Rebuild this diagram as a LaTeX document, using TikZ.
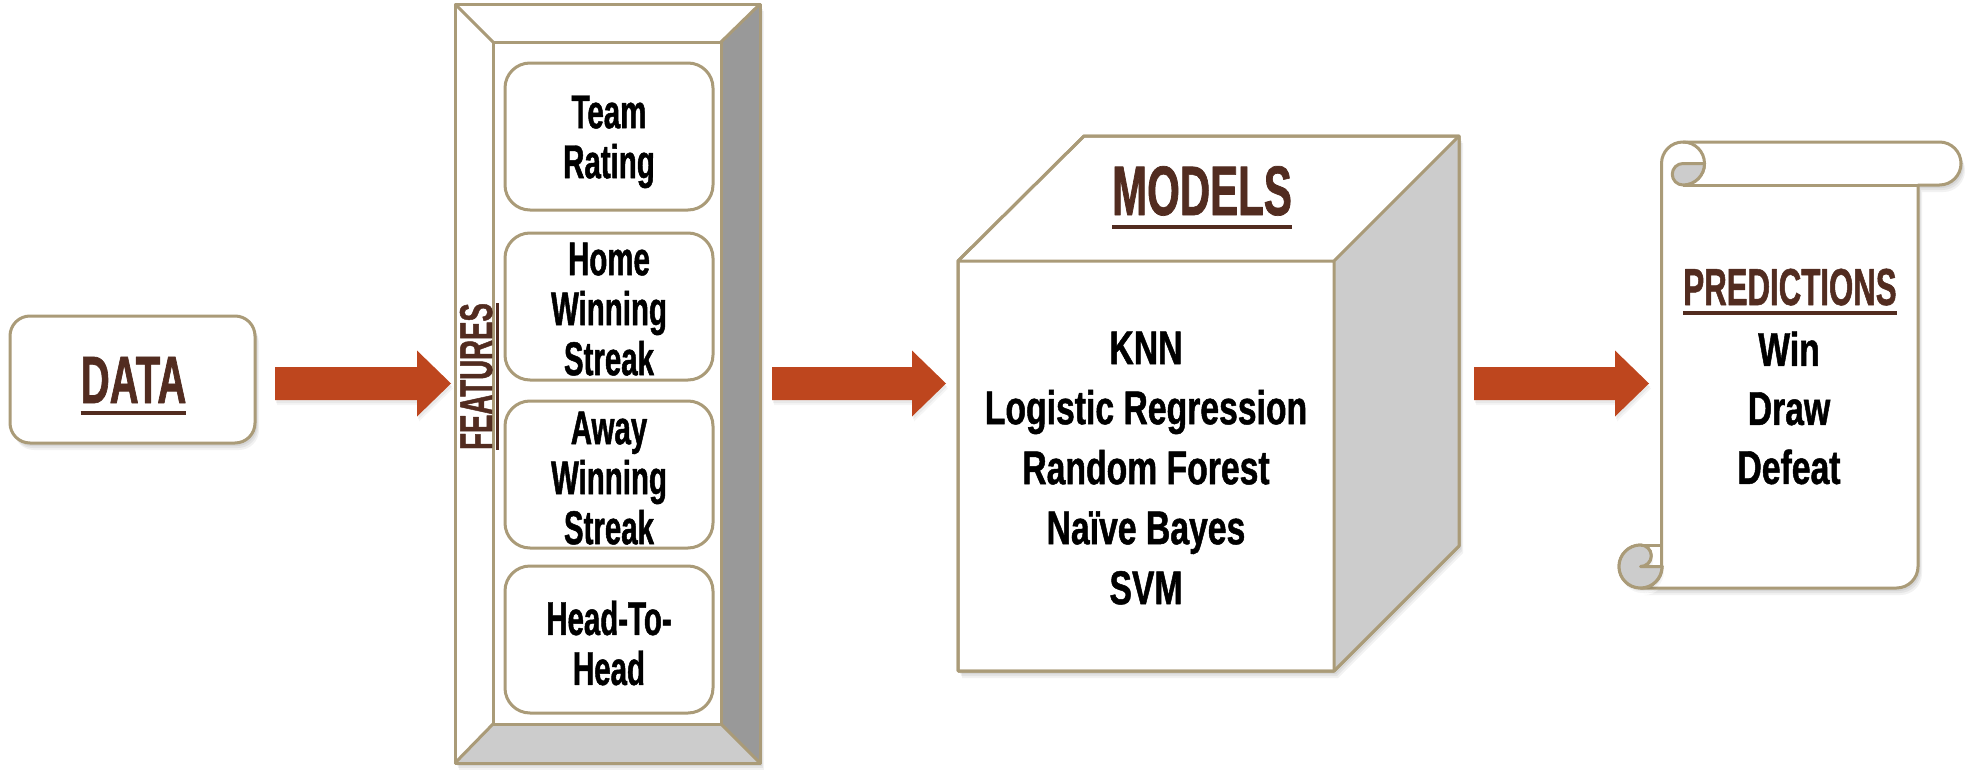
\documentclass[tikz,border=0pt]{standalone}
\usepackage{fontspec}
\setmainfont{Liberation Sans}
\newfontfamily\fntHead{Liberation Sans}[FakeStretch=0.6,FakeBold=1]
\newfontfamily\fntFeat{Liberation Sans}[FakeStretch=0.62,FakeBold=1]
\newfontfamily\fntList{Liberation Sans}[FakeStretch=0.71,FakeBold=1]
\usetikzlibrary{calc}
\definecolor{edge}{RGB}{170,155,120}
\definecolor{brownt}{RGB}{82,44,32}
\definecolor{arrowc}{RGB}{190,70,30}
\definecolor{gdark}{RGB}{153,153,153}
\definecolor{glight}{RGB}{204,204,204}
\newcommand\myul[3]{\sbox0{#3}\rlap{\rule[#1]{\wd0}{#2}}\usebox0}
\begin{document}
\begin{tikzpicture}[x=1pt,y=1pt,line width=3pt,line join=round,
  softshadow/.style={
    preaction={fill=black,opacity=0.06,transform canvas={xshift=2pt,yshift=-3pt}},
    preaction={fill=black,opacity=0.06,transform canvas={xshift=3pt,yshift=-5pt}},
    preaction={fill=black,opacity=0.05,transform canvas={xshift=4pt,yshift=-7pt}}},
  lightshadow/.style={
    preaction={fill=black,opacity=0.05,transform canvas={xshift=1pt,yshift=-3pt}},
    preaction={fill=black,opacity=0.04,transform canvas={xshift=2pt,yshift=-5pt}}},
  databox/.style={draw=edge,fill=white,rounded corners=20pt,minimum width=245pt,minimum height=127pt,inner sep=0pt,softshadow},
  featbox/.style={draw=edge,fill=white,rounded corners=25pt,minimum width=208pt,minimum height=147pt,inner sep=0pt},
  heading/.style={inner sep=0pt,anchor=base,text=brownt},
  feattext/.style={inner sep=0pt,anchor=north,align=center,text=black,font=\fntFeat\bfseries\fontsize{47.5}{50}\selectfont},
  listtext/.style={inner sep=0pt,anchor=north,align=center,text=black,font=\fntList\bfseries\fontsize{47.5}{60}\selectfont},
  blockarrow/.style={fill=arrowc,lightshadow,to path={($(\tikztostart)+(0,16.5)$) -- ($(\tikztotarget)+(-34,16.5)$) -- ($(\tikztotarget)+(-34,33)$) -- (\tikztotarget) -- ($(\tikztotarget)+(-34,-33)$) -- ($(\tikztotarget)+(-34,-16.5)$) -- ($(\tikztostart)+(0,-16.5)$) -- cycle}}
]
\useasboundingbox (0,0) rectangle (1971,-779);

% DATA
\node[databox] (data) at (132.5,-379.5) {};
\node[heading] (datat) at (133.5,-403) {\fntHead\bfseries\fontsize{67}{67}\selectfont\myul{-12pt}{4pt}{DATA}};

% FEATURES bevel frame
\node[draw=edge,fill=white,minimum width=305pt,minimum height=759pt,inner sep=0pt,softshadow] (feat) at (607.5,-383.5) {};
\fill[gdark] (721,-42) -- (760,-4) -- (760,-763) -- (721,-724) -- cycle;
\fill[glight] (493,-724) -- (721,-724) -- (760,-763) -- (455,-763) -- cycle;
\draw[edge] (455,-4) rectangle (760,-763);
\draw[edge] (493,-42) rectangle (721,-724);
\draw[edge] (455,-4) -- (493,-42) (760,-4) -- (721,-42) (455,-763) -- (493,-724) (760,-763) -- (721,-724);
\node[heading,rotate=90] (featt) at (492,-376.5) {\fntHead\bfseries\fontsize{46}{46}\selectfont\myul{-6.5pt}{2.5pt}{FEATURES}};

\node[featbox] (f1) at (609,-136.5) {};
\node[featbox] (f2) at (609,-306.5) {};
\node[featbox] (f3) at (609,-474.5) {};
\node[featbox] (f4) at (609,-639.5) {};
\node[feattext] (f1t) at (609,-94) {Team\\Rating};
\node[feattext] (f2t) at (609,-241) {Home\\Winning\\Streak};
\node[feattext] (f3t) at (609,-410) {Away\\Winning\\Streak};
\node[feattext] (f4t) at (609,-599) {Head-To-\\Head};

% MODELS cube
\path[fill=white,draw=edge,softshadow] (958,-261) -- (1084,-136) -- (1459,-136) -- (1459,-546) -- (1334,-671) -- (958,-671) -- cycle;
\fill[glight] (1334,-261) -- (1459,-136) -- (1459,-546) -- (1334,-671) -- cycle;
\draw[edge] (958,-261) -- (1084,-136) -- (1459,-136) -- (1459,-546) -- (1334,-671) -- (958,-671) -- cycle;
\draw[edge] (958,-261) -- (1334,-261) -- (1459,-136) (1334,-261) -- (1334,-671);
\node[heading] (modt) at (1202,-215) {\fntHead\bfseries\fontsize{70}{70}\selectfont\myul{-13.5pt}{4pt}{MODELS}};
\node[listtext] (modl) at (1146,-330) {KNN\\Logistic Regression\\Random Forest\\Naïve Bayes\\SVM};

% PREDICTIONS scroll
\path[draw=edge,fill=white,softshadow] (1661.5,-566.5) -- (1661.5,-163.5) arc[start angle=180,end angle=90,radius=21.5] -- (1939.5,-142) arc[start angle=90,end angle=-90,radius=21.5] -- (1918,-185) -- (1918,-566.5) arc[start angle=0,end angle=-90,radius=21.5] -- (1640.5,-588) arc[start angle=-90,end angle=0,radius=21.5] -- cycle;
\draw[edge] (1683,-185) -- (1918,-185);
\draw[edge] (1683,-142) arc[start angle=90,end angle=-90,radius=21.5];
\path[fill=glight,draw=edge] (1683,-163.5) -- (1704.5,-163.5) arc[start angle=0,end angle=-90,radius=21.5] arc[start angle=-90,end angle=-270,radius=10.75] -- cycle;
\path[fill=glight,draw=edge,lightshadow] (1640.5,-545) arc[start angle=90,end angle=360,radius=21.5] -- (1640.5,-566.5) arc[start angle=-90,end angle=90,radius=10.75] -- cycle;
\path[fill=glight,draw=edge] (1640.5,-545) arc[start angle=90,end angle=360,radius=21.5] -- (1640.5,-566.5) arc[start angle=-90,end angle=90,radius=10.75] -- cycle;
\draw[edge] (1640.5,-545) -- (1661.5,-545);
\node[heading] (predt) at (1790,-305) {\fntHead\bfseries\fontsize{52}{52}\selectfont\myul{-10.3pt}{4pt}{PREDICTIONS}};
\node[listtext,font=\fntList\bfseries\fontsize{47.5}{59}\selectfont] (predl) at (1789,-330) {Win\\Draw\\Defeat};

% connectors
\coordinate (a1s) at (275,-383.5);
\coordinate (a1e) at (451,-383.5);
\coordinate (a2s) at (772,-383.5);
\coordinate (a2e) at (946,-383.5);
\coordinate (a3s) at (1474,-383.5);
\coordinate (a3e) at (1649,-383.5);
\path[blockarrow] (a1s) to (a1e);
\path[blockarrow] (a2s) to (a2e);
\path[blockarrow] (a3s) to (a3e);
\end{tikzpicture}
\end{document}
